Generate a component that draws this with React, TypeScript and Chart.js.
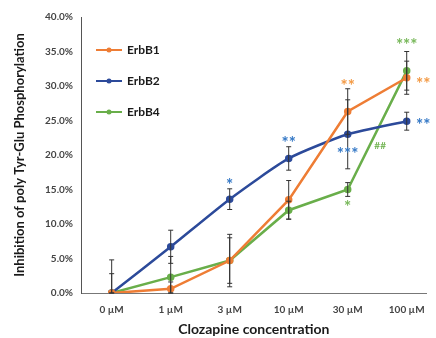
import React, { useEffect, useRef } from "react";
import { Chart, registerables } from "chart.js";
Chart.register(...registerables);

const categories = ["0 µM", "1 µM", "3 µM", "10 µM", "30 µM", "100 µM"];
const erbB1 = [0, 0.6, 4.7, 13.5, 26.3, 31.2];
const erbB2 = [0, 6.7, 13.6, 19.5, 23.0, 24.9];
const erbB4 = [0, 2.3, 4.7, 12.0, 15.0, 32.2];
const errB1 = [4.8, 1.0, 3.8, 2.8, 3.3, 2.4];
const errB2 = [0, 2.4, 1.5, 1.7, 5.0, 1.3];
const errB4 = [2.8, 3.0, 3.3, 1.3, 1.0, 2.8];
const seriesNames = ["ErbB1", "ErbB2", "ErbB4"];
const yTicks = [0, 5, 10, 15, 20, 25, 30, 35, 40];

// significance marks: [category position, value, text, series index]
const marks: [number, number, string, number][] = [
  [2, 16.1, "*", 1],
  [3, 22.3, "**", 1],
  [4, 20.7, "***", 1],
  [5.28, 24.9, "**", 1],
  [4, 30.5, "**", 0],
  [5.28, 30.8, "**", 0],
  [5, 36.4, "***", 2],
  [4.55, 21.4, "##", 2],
  [4, 12.9, "*", 2],
];

const lineColors = ["#EE7D35", "#2C4A9A", "#69AE4A"];
const markColors = ["#F39A45", "#3478C6", "#78B85A"];
const tensions = [0, 0.2, 0];
const FONT = "Lato, 'Open Sans', sans-serif";

export default function App() {
  const ref = useRef<HTMLCanvasElement>(null);
  useEffect(() => {
    const errs = [errB1, errB2, errB4];
    const vals = [erbB1, erbB2, erbB4];
    const overlay = {
      id: "overlay",
      afterDatasetsDraw(chart: any) {
        const ctx = chart.ctx;
        const xs = chart.scales.x;
        const ys = chart.scales.y;
        ctx.save();
        ctx.strokeStyle = "#333";
        ctx.lineWidth = 1;
        vals.forEach((arr, s) => {
          arr.forEach((v, i) => {
            const e = errs[s][i];
            if (!e) return;
            const x = xs.getPixelForValue(i);
            const y1 = ys.getPixelForValue(v + e);
            const y2 = ys.getPixelForValue(Math.max(0, v - e));
            ctx.beginPath();
            ctx.moveTo(x, y1);
            ctx.lineTo(x, y2);
            ctx.moveTo(x - 2.5, y1);
            ctx.lineTo(x + 2.5, y1);
            ctx.moveTo(x - 2.5, y2);
            ctx.lineTo(x + 2.5, y2);
            ctx.stroke();
          });
        });
        ctx.textAlign = "center";
        ctx.textBaseline = "middle";
        marks.forEach(([c, v, t, s]) => {
          const x = xs.getPixelForValue(c);
          const y = ys.getPixelForValue(v);
          ctx.fillStyle = markColors[s];
          const star = t.includes("*");
          ctx.font = star ? `bold 17px ${FONT}` : `bold 10px ${FONT}`;
          ctx.fillText(t, x, y + (star ? 4 : 0));
        });
        seriesNames.forEach((n, s) => {
          const y = 50 + s * 31;
          ctx.strokeStyle = lineColors[s];
          ctx.lineWidth = 2;
          ctx.beginPath();
          ctx.moveTo(96, y);
          ctx.lineTo(122, y);
          ctx.stroke();
          ctx.fillStyle = lineColors[s];
          ctx.beginPath();
          ctx.arc(109, y, 2.5, 0, Math.PI * 2);
          ctx.fill();
          ctx.fillStyle = "#1a1a1a";
          ctx.textAlign = "left";
          ctx.font = `bold 12px ${FONT}`;
          ctx.fillText(n, 127, y);
        });
        ctx.restore();
      },
    };
    const chart = new Chart(ref.current!, {
      type: "line",
      data: {
        datasets: vals.map((arr, s) => ({
          label: seriesNames[s],
          data: arr.map((v, i) => ({ x: i, y: v })),
          borderColor: lineColors[s],
          backgroundColor: lineColors[s],
          borderWidth: 2.5,
          pointRadius: 2.5,
          pointHoverRadius: 2.5,
          tension: tensions[s],
        })),
      },
      options: {
        animation: false,
        responsive: false,
        layout: { padding: { left: 0, top: 17, right: 6, bottom: 0 } },
        plugins: { legend: { display: false }, tooltip: { enabled: false } },
        scales: {
          x: {
            type: "linear",
            min: -0.52,
            max: 5.336,
            afterBuildTicks: (sc: any) => {
              sc.ticks = categories.map((_, i) => ({ value: i }));
            },
            afterFit: (sc: any) => {
              sc.height = 338 - 293;
            },
            grid: { display: false, drawTicks: false },
            border: { display: true, color: "#777", width: 1 },
            ticks: {
              padding: 11,
              color: "#444",
              font: { family: FONT, size: 10, weight: "bold" },
              callback: (v: any) => categories[v] ?? "",
              maxRotation: 0,
              autoSkip: false,
            },
            title: {
              display: true,
              text: "Clozapine concentration",
              color: "#1a1a1a",
              font: { family: FONT, size: 14, weight: "bold" },
              padding: { top: 2, bottom: 0 },
            },
          },
          y: {
            min: 0,
            max: 40,
            afterBuildTicks: (sc: any) => {
              sc.ticks = yTicks.map((v) => ({ value: v }));
            },
            afterFit: (sc: any) => {
              sc.width = 81;
            },
            grid: { display: false, drawTicks: false },
            border: { display: true, color: "#555", width: 1 },
            ticks: {
              padding: 8,
              color: "#444",
              font: { family: FONT, size: 10, weight: "bold" },
              callback: (v: any) => Number(v).toFixed(1) + "%",
            },
            title: {
              display: true,
              text: "Inhibition of poly Tyr-Glu Phosphorylation",
              color: "#1a1a1a",
              font: { family: FONT, size: 13, weight: "bold" },
              padding: { top: 12, bottom: 0 },
            },
          },
        },
      },
      plugins: [overlay],
    });
    return () => chart.destroy();
  }, []);
  return (
    <div style={{ position: "fixed", left: 0, top: 0, width: 436, height: 338, background: "#fff" }}>
      <canvas ref={ref} width={436} height={338} />
    </div>
  );
}
